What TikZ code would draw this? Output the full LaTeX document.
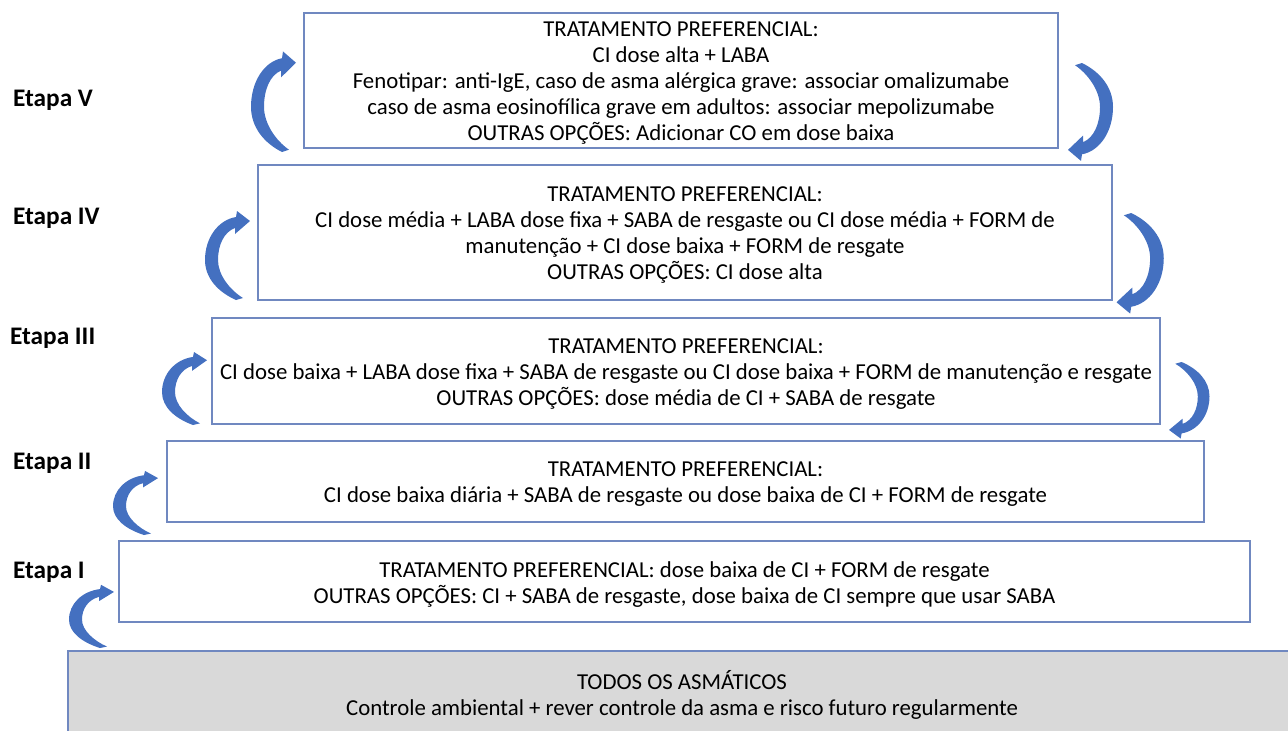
\documentclass[tikz,border=0pt]{standalone}
\usepackage{fontspec}
\setmainfont{Carlito}
\definecolor{boxline}{HTML}{7088C0}
\definecolor{arrowblue}{HTML}{4470C0}
\definecolor{grayfill}{HTML}{D9D9D9}
\begin{document}
\begin{tikzpicture}[x=1pt,y=-1pt,
  stagebox/.style={draw=boxline, line width=1.1pt, inner sep=0pt},
  stagetext/.style={align=center, inner sep=0pt, yshift=-3pt,
    font=\fontsize{22.8}{26}\selectfont, text=black},
  stagelabel/.style={anchor=west, inner sep=0pt, font=\fontsize{25.3}{29}\selectfont\bfseries},
  leftbend/.pic={
    \fill[arrowblue] (-4,0) .. controls (-22,8) and (-35,22) .. (-35,40)
      .. controls (-35,62) and (-22,80) .. (-4,83) -- (-3,89) -- (10,79) -- (-5,66) -- (-5,72)
      .. controls (-16,68) and (-22,55) .. (-22,40)
      .. controls (-22,25) and (-10,10) .. (3,2) -- cycle;
  }]
\useasboundingbox (0,0) rectangle (1288,731);

% boxes
\node[stagebox, minimum width=754pt, minimum height=135pt] (b5) at (681,80.5) {};
\node[stagetext] (t5) at (b5.center)
  {TRATAMENTO PREFERENCIAL:\\ CI dose alta + LABA\\ Fenotipar: anti-IgE, caso de asma alérgica grave: associar omalizumabe\\ caso de asma eosinofílica grave em adultos: associar mepolizumabe\\ OUTRAS OPÇÕES: Adicionar CO em dose baixa};
\node[stagebox, minimum width=854pt, minimum height=135pt] (b4) at (685,232.5) {};
\node[stagetext] (t4) at (b4.center)
  {TRATAMENTO PREFERENCIAL:\\ CI dose média + LABA dose fixa + SABA de resgaste ou CI dose média + FORM de\\ manutenção + CI dose baixa + FORM de resgate\\ OUTRAS OPÇÕES: CI dose alta};
\node[stagebox, minimum width=948pt, minimum height=106pt] (b3) at (686,371) {};
\node[stagetext] (t3) at (b3.center)
  {TRATAMENTO PREFERENCIAL:\\ CI dose baixa + LABA dose fixa + SABA de resgaste ou CI dose baixa + FORM de manutenção e resgate\\ OUTRAS OPÇÕES: dose média de CI + SABA de resgate};
\node[stagebox, minimum width=1037pt, minimum height=81pt] (b2) at (685.5,481.5) {};
\node[stagetext] (t2) at (b2.center)
  {TRATAMENTO PREFERENCIAL:\\ CI dose baixa diária + SABA de resgaste ou dose baixa de CI + FORM de resgate};
\node[stagebox, minimum width=1131pt, minimum height=81pt] (b1) at (684.5,581.5) {};
\node[stagetext] (t1) at (b1.center)
  {TRATAMENTO PREFERENCIAL: dose baixa de CI + FORM de resgate\\ OUTRAS OPÇÕES: CI + SABA de resgaste, dose baixa de CI sempre que usar SABA};
\node[stagebox, fill=grayfill, minimum width=1228pt, minimum height=87pt] (b0) at (682,694.5) {};
\node[stagetext, yshift=3pt] (t0) at (b0.center)
  {TODOS OS ASMÁTICOS\\ Controle ambiental + rever controle da asma e risco futuro regularmente};

% labels
\node[stagelabel] (l5) at (13,100) {Etapa V};
\node[stagelabel] (l4) at (13,218) {Etapa IV};
\node[stagelabel] (l3) at (10,338) {Etapa III};
\node[stagelabel] (l2) at (13,463) {Etapa II};
\node[stagelabel] (l1) at (13,572) {Etapa I};

% left arrows (up)
\pic[yscale=-1.13] at (286,152) {leftbend};
\pic[yscale=-1.0] at (240,300) {leftbend};
\pic[yscale=-0.82] at (197,425) {leftbend};
\pic[yscale=-0.72] at (148,535) {leftbend};
\pic[yscale=-0.71] at (104,648) {leftbend};

% right arrows (down)
\pic[xscale=-1.0, yscale=1.1] at (1078,63) {leftbend};
\pic[xscale=-1.05, yscale=1.13] at (1127,213) {leftbend};
\pic[xscale=-0.9, yscale=0.86] at (1178,362) {leftbend};
\end{tikzpicture}
\end{document}
